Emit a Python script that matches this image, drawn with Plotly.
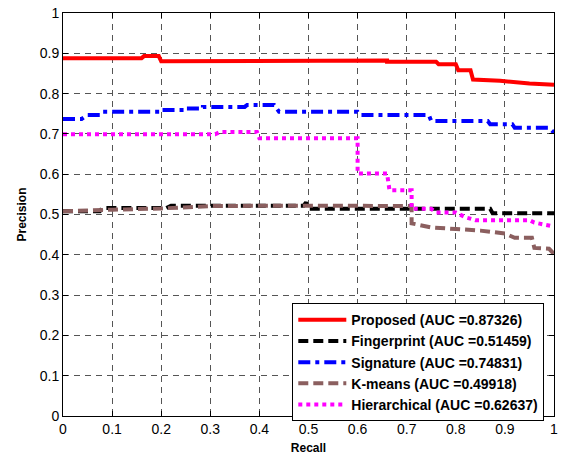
import plotly.graph_objects as go

# ---- data ----
proposed_recall = [0, 0.16, 0.165, 0.195, 0.2, 0.5, 0.5, 0.66, 0.66, 0.76, 0.765, 0.80, 0.805, 0.83, 0.835, 0.89, 0.95, 1.0]
proposed_prec   = [0.888, 0.888, 0.893, 0.893, 0.880, 0.880, 0.882, 0.882, 0.879, 0.879, 0.873, 0.873, 0.858, 0.858, 0.835, 0.832, 0.825, 0.822]

finger_recall = [0, 0.075, 0.08, 0.21, 0.22, 0.49, 0.495, 0.50, 0.87, 0.875, 1.0]
finger_prec   = [0.508, 0.508, 0.516, 0.516, 0.522, 0.522, 0.530, 0.514, 0.514, 0.503, 0.503]

sig_recall = [0, 0.038, 0.05, 0.075, 0.08, 0.2, 0.2, 0.25, 0.25, 0.285, 0.285, 0.37, 0.375, 0.43, 0.44, 0.6, 0.605, 0.745, 0.75, 0.865, 0.87, 0.915, 0.92, 0.99, 1.0]
sig_prec   = [0.737, 0.737, 0.747, 0.747, 0.755, 0.755, 0.759, 0.759, 0.763, 0.763, 0.767, 0.767, 0.772, 0.772, 0.755, 0.755, 0.747, 0.747, 0.732, 0.732, 0.724, 0.724, 0.715, 0.715, 0.703]

km_recall = [0, 0.05, 0.1, 0.2, 0.25, 0.3, 0.5, 0.71, 0.71, 0.75, 0.8, 0.85, 0.9, 0.92, 0.955, 0.96, 0.99, 1.0]
km_prec   = [0.508, 0.509, 0.512, 0.515, 0.519, 0.521, 0.522, 0.521, 0.478, 0.468, 0.464, 0.460, 0.453, 0.442, 0.442, 0.417, 0.415, 0.402]

hier_recall = [0, 0.31, 0.32, 0.395, 0.40, 0.60, 0.60, 0.66, 0.665, 0.71, 0.71, 0.75, 0.76, 0.80, 0.82, 0.84, 0.95, 0.96, 1.0]
hier_prec   = [0.699, 0.699, 0.705, 0.705, 0.689, 0.689, 0.602, 0.602, 0.560, 0.560, 0.514, 0.514, 0.505, 0.505, 0.493, 0.486, 0.486, 0.480, 0.470]

names = ["Proposed (AUC =0.87326)", "Fingerprint (AUC =0.51459)", "Signature (AUC =0.74831)",
         "K-means (AUC =0.49918)", "Hierarchical (AUC =0.62637)"]
ticks = [0, 0.1, 0.2, 0.3, 0.4, 0.5, 0.6, 0.7, 0.8, 0.9, 1]
tick_text = ["0", "0.1", "0.2", "0.3", "0.4", "0.5", "0.6", "0.7", "0.8", "0.9", "1"]

series = [
    (proposed_recall, proposed_prec, "#ff0000", "solid"),
    (finger_recall, finger_prec, "#000000", "10px,5px"),
    (sig_recall, sig_prec, "#0000ff", "12px,5px,4px,5px"),
    (km_recall, km_prec, "#8b5f5f", "10px,5px"),
    (hier_recall, hier_prec, "#ff00ff", "4px,4px"),
]

fig = go.Figure()
for (xs, ys, col, dash), nm in zip(series, names):
    fig.add_trace(go.Scatter(x=xs, y=ys, mode="lines", name=nm,
                             line=dict(color=col, width=4, dash=dash)))

FONT = "Liberation Sans, Arial"
axis_common = dict(
    range=[0, 1], tickvals=ticks, ticktext=tick_text,
    showline=True, linecolor="black", linewidth=1, mirror="ticks",
    ticks="inside", ticklen=5, tickcolor="black",
    showgrid=True, gridcolor="#555555", gridwidth=1, griddash="6px,5px",
    zeroline=False, tickfont=dict(family=FONT, size=14, color="black"),
    ticklabeloverflow="allow",
)

fig.update_layout(
    width=561, height=455,
    margin=dict(l=63, r=3, t=13, b=39),
    paper_bgcolor="white", plot_bgcolor="white",
    xaxis=dict(**axis_common, title=dict(text="<b>Recall</b>", standoff=7,
               font=dict(family=FONT, size=12, color="black"))),
    yaxis=dict(**axis_common, title=dict(text="<b>Precision</b>", standoff=10,
               font=dict(family=FONT, size=12, color="black"))),
    legend=dict(x=0.467, y=0.28, xanchor="left", yanchor="top",
                bgcolor="white", bordercolor="black", borderwidth=1,
                font=dict(family=FONT, size=14, color="black", weight="bold"),
                itemwidth=48, tracegroupgap=0),
    showlegend=True,
)

fig.write_html("out.html", config={"displayModeBar": False},
               post_script="document.body.style.margin='0';document.body.style.overflow='hidden';")
